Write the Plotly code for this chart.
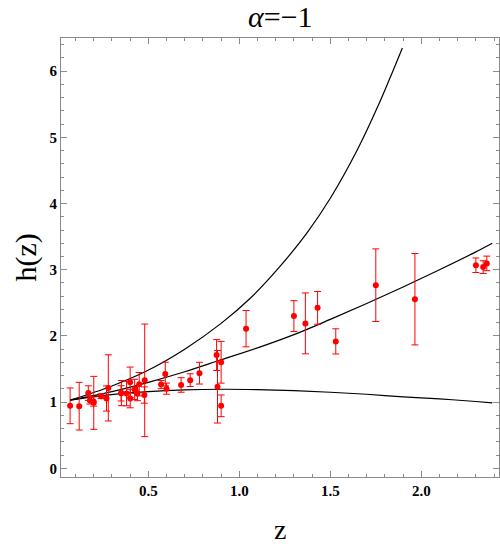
import plotly.graph_objects as go

# Observational data (z, h(z), error)
z_data = [0.07, 0.12, 0.17, 0.179, 0.199, 0.2, 0.24, 0.27, 0.28, 0.35, 0.352, 0.3802,
          0.4, 0.4004, 0.4247, 0.43, 0.44, 0.4497, 0.4783, 0.48, 0.57, 0.593, 0.6,
          0.68, 0.73, 0.781, 0.875, 0.88, 0.9, 0.9, 1.037, 1.3, 1.363, 1.43, 1.53,
          1.75, 1.965, 2.3, 2.34, 2.36]
h_data = [0.945, 0.94, 1.137, 1.027, 1.01, 0.99, 1.09, 1.055, 1.216, 1.133, 1.137, 1.13,
          1.30, 1.055, 1.193, 1.184, 1.13, 1.271, 1.108, 1.33, 1.266, 1.425, 1.204,
          1.26, 1.333, 1.438, 1.712, 1.233, 1.603, 0.945, 2.11, 2.30, 2.19, 2.425, 1.918,
          2.767, 2.555, 3.068, 3.04, 3.096]
h_err = [0.27, 0.36, 0.11, 0.055, 0.07, 0.40, 0.036, 0.19, 0.50, 0.115, 0.19, 0.185,
         0.23, 0.14, 0.153, 0.05, 0.107, 0.177, 0.123, 0.85, 0.062, 0.178, 0.084,
         0.11, 0.096, 0.164, 0.233, 0.548, 0.315, 0.164, 0.274, 0.233, 0.46, 0.247, 0.19,
         0.548, 0.69, 0.11, 0.096, 0.11]

# Model curves
z_upper = [0.07, 0.3, 0.49, 0.7, 0.9, 1.06, 1.22, 1.37, 1.5, 1.65, 1.76, 1.896]
h_upper = [1.03, 1.245, 1.47, 1.80, 2.19, 2.57, 3.04, 3.55, 4.08, 4.82, 5.46, 6.35]

z_mid = [0.07, 0.3, 0.5, 0.7, 0.9, 1.1, 1.3, 1.5, 1.7, 1.9, 2.1, 2.3, 2.39]
h_mid = [1.03, 1.16, 1.30, 1.46, 1.64, 1.82, 2.02, 2.25, 2.49, 2.74, 3.00, 3.27, 3.40]

z_low = [0.07, 0.2, 0.35, 0.5, 0.7, 0.9, 1.1, 1.3, 1.5, 1.7, 1.9, 2.1, 2.3, 2.39]
h_low = [1.03, 1.085, 1.13, 1.16, 1.185, 1.195, 1.19, 1.175, 1.15, 1.12, 1.08, 1.05, 1.01, 0.99]

x_tickvals = [0.5, 1.0, 1.5, 2.0]
x_ticktext = ["0.5", "1.0", "1.5", "2.0"]
y_tickvals = [0, 1, 2, 3, 4, 5, 6]
y_ticktext = ["0", "1", "2", "3", "4", "5", "6"]

fig = go.Figure()
for zz, hh in [(z_upper, h_upper), (z_mid, h_mid), (z_low, h_low)]:
    fig.add_trace(go.Scatter(x=zz, y=hh, mode="lines",
                             line=dict(color="black", width=1.2, shape="spline", smoothing=1.0),
                             showlegend=False, hoverinfo="skip"))

fig.add_trace(go.Scatter(x=z_data, y=h_data, mode="markers",
                         marker=dict(color="#ff0000", size=6),
                         error_y=dict(type="data", array=h_err, color="#ff0000",
                                      thickness=1, width=3.5),
                         showlegend=False))

axis_gray = "#8a8a8a"
serif = "Liberation Serif"

fig.update_layout(
    width=500, height=546,
    margin=dict(l=61, r=1, t=38, b=69, autoexpand=False),
    paper_bgcolor="white", plot_bgcolor="white",
    xaxis=dict(range=[0.02, 2.427], showgrid=False, zeroline=False, automargin=False,
               showline=True, linecolor=axis_gray, linewidth=1, mirror="ticks",
               ticks="inside", ticklen=6, tickcolor=axis_gray,
               tickvals=x_tickvals, ticktext=x_ticktext,
               tickfont=dict(family=serif, size=15, color="black", weight="bold"),
               minor=dict(dtick=0.1, tick0=0, ticks="inside", ticklen=3, tickcolor=axis_gray)),
    yaxis=dict(range=[-0.13, 6.5], showgrid=False, zeroline=False, automargin=False,
               showline=True, linecolor=axis_gray, linewidth=1, mirror="ticks",
               ticks="inside", ticklen=6, tickcolor=axis_gray,
               tickvals=y_tickvals, ticktext=y_ticktext,
               tickfont=dict(family=serif, size=15, color="black", weight="bold"),
               minor=dict(dtick=0.2, tick0=0, ticks="inside", ticklen=3, tickcolor=axis_gray)),
    annotations=[
        dict(text="<i>α</i>=−1", xref="paper", yref="paper", x=0.5, y=1.048,
             xanchor="center", yanchor="middle", showarrow=False,
             font=dict(family=serif, size=30, color="black")),
        dict(text="z", xref="paper", yref="paper", x=0.5, y=-0.119,
             xanchor="center", yanchor="middle", showarrow=False,
             font=dict(family=serif, size=28, color="black")),
        dict(text="h(z)", xref="paper", yref="paper", x=-0.082, y=0.5,
             xanchor="center", yanchor="middle", showarrow=False, textangle=-90,
             font=dict(family=serif, size=30, color="black")),
    ],
)

fig.write_html("out.html", config={"displayModeBar": False},
               post_script="document.body.style.margin='0';")
